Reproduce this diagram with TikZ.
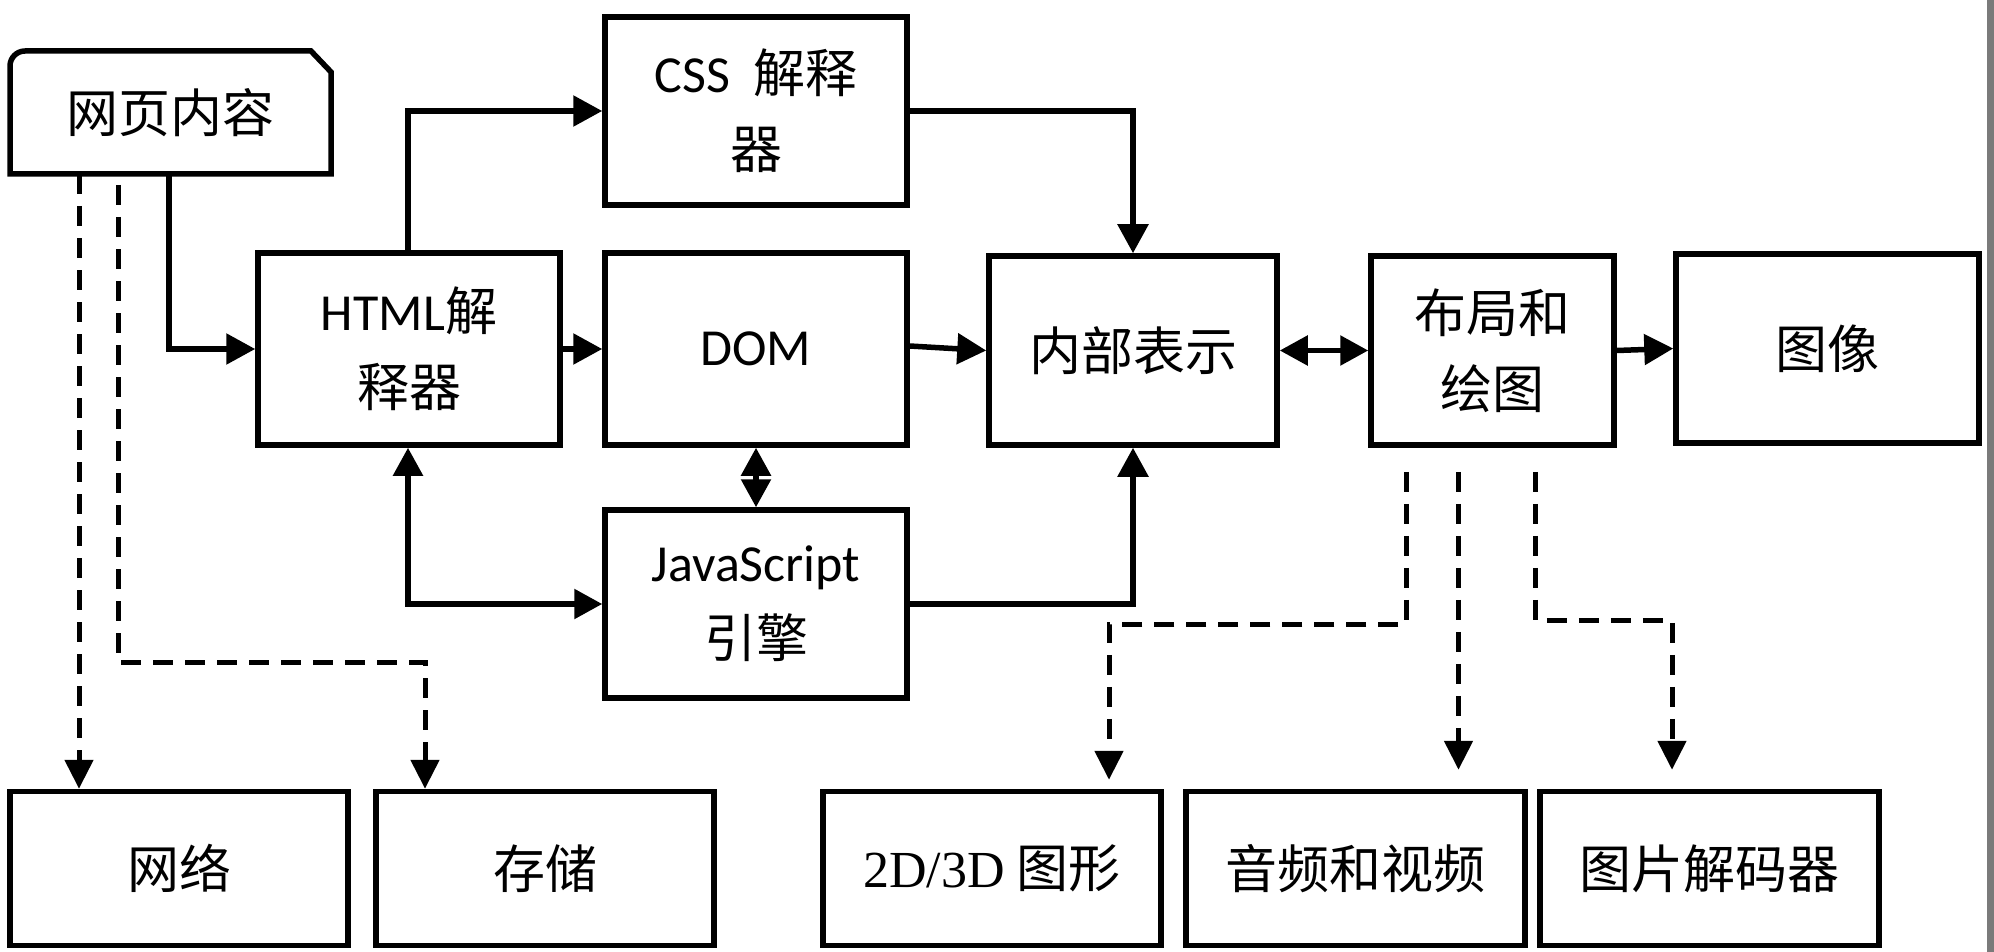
\documentclass[tikz,border=0pt]{standalone}
\usepackage{fontspec}
\setmainfont{Carlito}
\newfontfamily\cjk{Noto Sans CJK SC}
\newfontfamily\serifL{Liberation Serif}
\usetikzlibrary{arrows.meta,calc}
\definecolor{barGray}{HTML}{7A7A7A}
\tikzset{
  lw/.style={line width=5.5pt},
  box/.style={draw, lw, rectangle, align=center, font=\fontsize{52}{76}\selectfont, inner sep=0pt},
  arr/.style={lw, -{Triangle[length=29pt,width=30pt]}},
  biarr/.style={lw, {Triangle[length=28pt,width=29pt]}-{Triangle[length=28pt,width=29pt]}},
  darr/.style={line width=5pt, dash pattern=on 20pt off 12pt, -{Triangle[length=29pt,width=28pt]}},
}
\begin{document}
\begin{tikzpicture}[x=1pt,y=-1pt]
\fill[white] (0,0) rectangle (1994,952);
\useasboundingbox (0,0) rectangle (1994,952);
\fill[barGray] (1987,0) rectangle (1994,952);

% web content node (custom outline)
\node[lw, minimum width=321pt, minimum height=123pt, outer sep=0pt, inner sep=0pt,
      font=\fontsize{52}{76}\selectfont] (web) at (170.5,112.5) {\cjk 网页内容};
\draw[lw, line join=miter] ([yshift=-15pt]web.north west) arc[start angle=180,end angle=90,radius=15pt]
  -- ([xshift=-20pt]web.north east) -- ([yshift=-21pt]web.north east)
  -- (web.south east) -- (web.south west) -- cycle;

\node[box, minimum width=302pt, minimum height=188pt] (css) at (756,111) {CSS\hspace{0.45em}{\cjk 解释}\\{\cjk 器}};
\node[box, minimum width=302pt, minimum height=192pt] (html) at (409,349) {HTML{\cjk 解}\\{\cjk 释器}};
\node[box, minimum width=302pt, minimum height=192pt] (dom) at (756,349) {DOM};
\node[box, minimum width=288pt, minimum height=189pt] (rep) at (1133,350.5) {\cjk 内部表示};
\node[box, minimum width=243pt, minimum height=189pt] (lay) at (1492.5,350.5) {{\cjk 布局和}\\{\cjk 绘图}};
\node[box, minimum width=303pt, minimum height=189pt] (img) at (1827.5,348.5) {\cjk 图像};
\node[box, minimum width=302pt, minimum height=188pt] (js) at (756,604) {JavaScript\\{\cjk 引擎}};

\node[box, minimum width=338pt, minimum height=154pt] (net) at (179,868.5) {\cjk 网络};
\node[box, minimum width=338pt, minimum height=154pt] (sto) at (545,868.5) {\cjk 存储};
\node[box, minimum width=338pt, minimum height=154pt] (g2d) at (992,868.5) {{\serifL 2D/3D} {\cjk 图形}};
\node[box, minimum width=339pt, minimum height=154pt] (av) at (1355.5,868.5) {\cjk 音频和视频};
\node[box, minimum width=339pt, minimum height=154pt] (dec) at (1709.5,868.5) {\cjk 图片解码器};

% solid connectors
\draw[arr] (web.south -| 169,0) |- (html.west);
\draw[arr] (html.north -| 408,0) |- (css.west);
\draw[arr] (html.east) -- (dom.west);
\draw[arr] ([yshift=3pt]dom.east) -- (rep.west);
\draw[arr] (css.east) -| (rep.north);
\draw[arr] (js.east) -| (rep.south);
\draw[biarr] (dom.south) -- (js.north);
\draw[biarr] (html.south -| 408,0) |- (js.west);
\draw[biarr] (rep.east) -- (lay.west);
\draw[arr] (lay.east) -- (img.west);

% dashed connectors
\draw[darr] (web.south -| 79,0) -- (net.north -| 79,0);
\draw[darr] ([yshift=-11pt]web.south -| 118,0) |- (425,662) -- (sto.north -| 425,0);
\draw[darr, shorten >=9pt] ([xshift=-86.5pt,yshift=-24pt]lay.south) |- (1109,624) -- (g2d.north -| 1109,0);
\draw[darr, shorten >=19pt] ([xshift=-34pt,yshift=-24pt]lay.south) -- (av.north -| 1458.5,0);
\draw[darr, shorten >=19pt] ([xshift=42.5pt,yshift=-24pt]lay.south) |- (1672,620) -- (dec.north -| 1672,0);
\end{tikzpicture}
\end{document}
